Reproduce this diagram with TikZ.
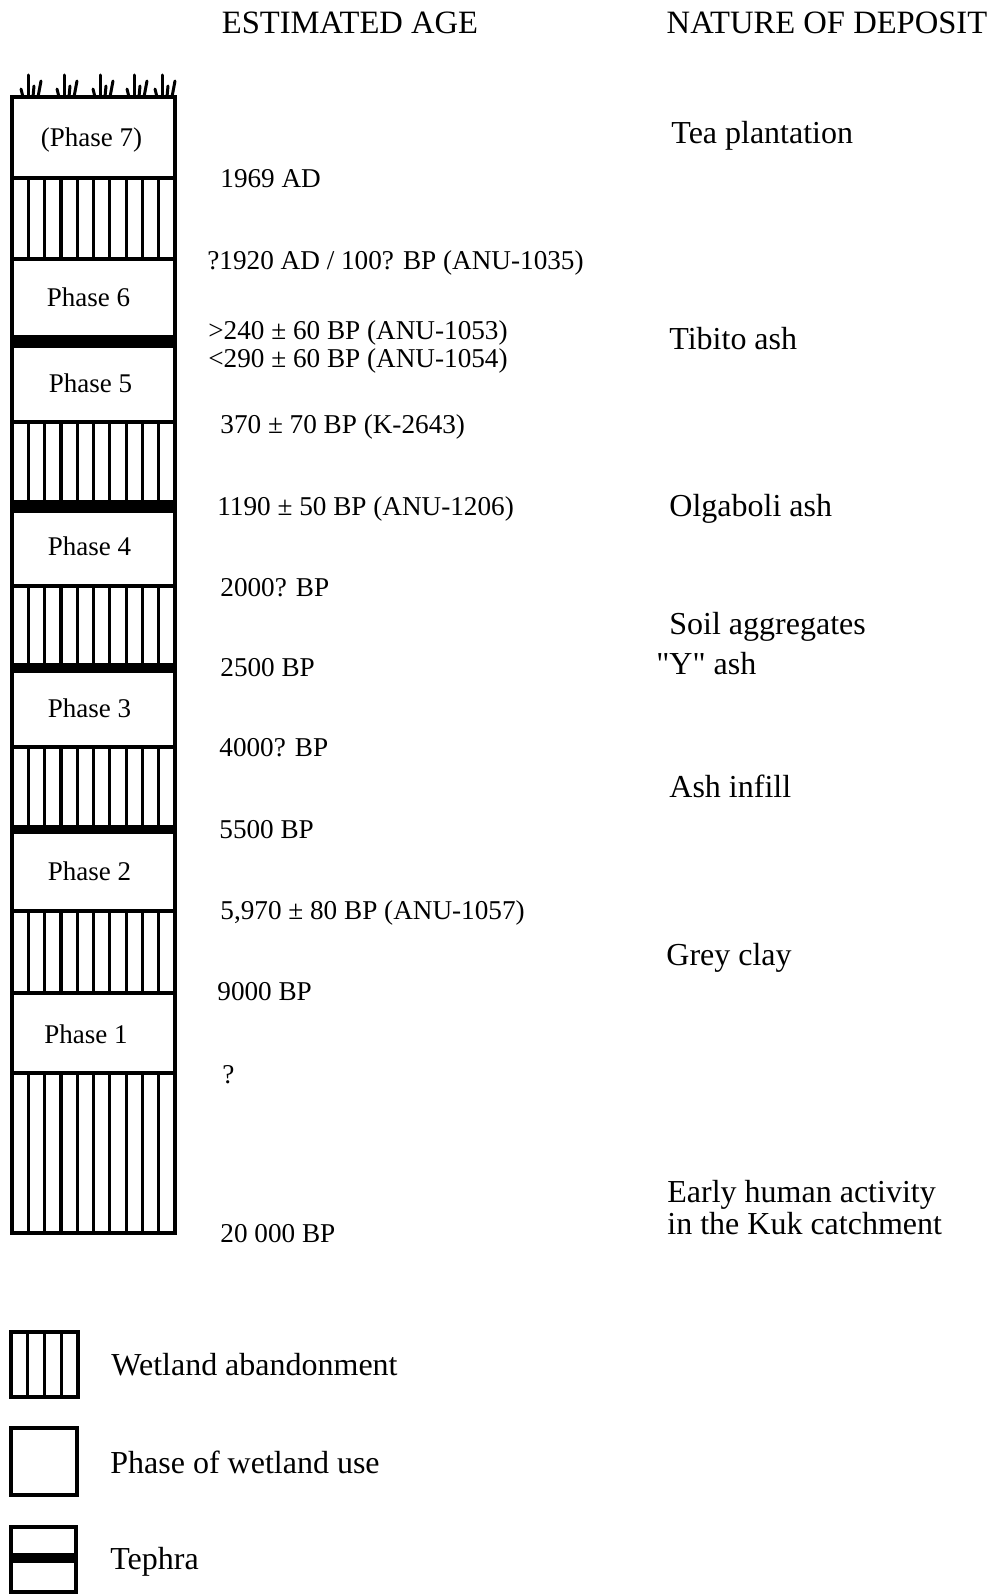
\documentclass[tikz,border=0pt]{standalone}
\usepackage{fontspec}
\setmainfont{Liberation Serif}[Ligatures=TeXOff]
\usetikzlibrary{positioning}

\begin{document}
\begin{tikzpicture}[
    x=0.5pt, y=-0.5pt,
    col/.style={line width=1.7pt},
    hatch/.style={line width=1.6pt},
    grass/.style={line width=1.5pt, line cap=round},
    phase/.style={inner sep=0pt, font=\fontsize{13.5}{16}\selectfont},
    age/.style={anchor=base west, inner sep=0pt, font=\fontsize{13.6}{16}\selectfont},
    deposit/.style={anchor=base west, inner sep=0pt, font=\fontsize{16}{19}\selectfont},
    hdr/.style={anchor=base, inner sep=0pt, font=\fontsize{16.3}{19}\selectfont},
    key/.style={anchor=base west, inner sep=0pt, font=\fontsize{16}{19}\selectfont}
  ]
    \useasboundingbox (0,0) rectangle (991,1594);

    % headings
    \node[hdr] (agehead) at (350,34) {ESTIMATED AGE};
    \node[hdr] (dephead) at (827,34) {NATURE OF DEPOSIT};

    % grass on the surface
    \foreach \c in {32,68,104,138,166} {
      \draw[grass] (\c-9,97) -- (\c-11,89);
      \draw[grass] (\c-4,97) -- (\c-4,75);
      \draw[grass] (\c+1,97) -- (\c+2,86);
      \draw[grass] (\c+6,97) -- (\c+9,81);
    }

    % the column
    \foreach \t/\b in {178/259, 422/500, 586/663, 747/825, 911/993, 1073/1233}
      \foreach \i in {1,...,9}
        \draw[hatch] (12+\i*16.3,\t) -- (12+\i*16.3,\b);
    \foreach \t/\b in {335/348, 500/513, 663/673, 825/834}
      \fill (12,\t) rectangle (175,\b);
    \foreach \y in {178,259,422,586,747,911,993,1073}
      \draw[col] (12,\y) -- (175,\y);
    \draw[col] (12,97) rectangle (175,1233);

    \node[phase] (p7) at (91.5,140.5) {(Phase 7)};
    \node[phase] (p6) at (88.5,297) {Phase 6};
    \node[phase] (p5) at (90.5,383) {Phase 5};
    \node[phase] (p4) at (89.5,546.5) {Phase 4};
    \node[phase] (p3) at (89.5,708) {Phase 3};
    \node[phase] (p2) at (89.5,871.5) {Phase 2};
    \node[phase] (p1) at (86,1034) {Phase 1};

    % ages
    \node[age] (a1) at (220,188) {1969 AD};
    \node[age] (a2) at (207,270) {?1920 AD / 100? BP (ANU-1035)};
    \node[age] (a3) at (208,339) {>240 ± 60 BP (ANU-1053)};
    \node[age] (a4) at (208,367) {<290 ± 60 BP (ANU-1054)};
    \node[age] (a5) at (220,433) {370 ± 70 BP (K-2643)};
    \node[age] (a6) at (217,515) {1190 ± 50 BP (ANU-1206)};
    \node[age] (a7) at (220,596) {2000? BP};
    \node[age] (a8) at (220,676) {2500 BP};
    \node[age] (a9) at (219,756) {4000? BP};
    \node[age] (a10) at (219,838) {5500 BP};
    \node[age] (a11) at (220,919) {5,970 ± 80 BP (ANU-1057)};
    \node[age] (a12) at (217,1000) {9000 BP};
    \node[age] (a13) at (222,1083) {?};
    \node[age] (a14) at (220,1242) {20 000 BP};

    % deposits
    \node[deposit] (tea) at (671,144) {Tea plantation};
    \node[deposit] (tibito) at (669,349) {Tibito ash};
    \node[deposit] (olgaboli) at (669,516) {Olgaboli ash};
    \node[deposit] (soil) at (669,634) {Soil aggregates};
    \node[deposit] (yash) at (656,674) {"Y" ash};
    \node[deposit] (infill) at (669,797) {Ash infill};
    \node[deposit] (clay) at (666,965) {Grey clay};
    \node[deposit] (early) at (667,1202) {Early human activity};
    \node[deposit] (kuk) at (667,1234) {in the Kuk catchment};

    % key
    \foreach \i in {1,2,3}
      \draw[hatch] (11+\i*16.75,1332) -- (11+\i*16.75,1397);
    \draw[col] (11,1332) rectangle (78,1397);
    \draw[col] (11,1428) rectangle (77,1495);
    \fill (11,1553) rectangle (76,1563);
    \draw[col] (11,1527) rectangle (76,1592);
    \node[key] (kwet) at (111,1375) {Wetland abandonment};
    \node[key] (kuse) at (110,1473) {Phase of wetland use};
    \node[key] (kteph) at (110,1569) {Tephra};
  \end{tikzpicture}
\end{document}
